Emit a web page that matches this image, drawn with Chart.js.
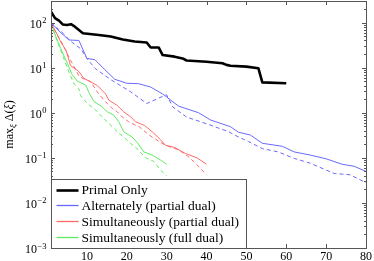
<!DOCTYPE html>
<html>
<head>
<meta charset="utf-8">
<script src="https://cdn.jsdelivr.net/npm/chart.js@4/dist/chart.umd.min.js"></script>
<style>
html,body{margin:0;padding:0;background:#fff;}
#wrap{position:relative;width:374px;height:261px;}
</style>
</head>
<body>
<div id="wrap"><canvas id="c" width="374" height="261"></canvas></div>
<script>
// ---- data ----
const legendLabels = ['Primal Only','Alternately (partial dual)','Simultaneously (partial dual)','Simultaneously (full dual)'];

const primalX = [1,2,3,4,5,6,7,9,13,16,19,22,25,26,28,29,32,34,35,40,44,45,46,50,53,54,60];
const primalY = [175,125,110,90,88,92,81,58,53,49,42,38,36,28,28,19,17.5,16,14.4,13.5,12.5,11.5,11,10.5,9.7,4.7,4.5];

const altX = [1,3,5.5,8,10,12,14.5,17,20,23,26,29,31,33,38,41,46,48,51,54,59,62,66,70,74,77,80];
const altY = [100,65,41,40,16,15,9,5.5,4.5,4.4,3.7,2.6,1.9,1.4,1.0,0.69,0.49,0.37,0.32,0.21,0.18,0.135,0.115,0.095,0.072,0.065,0.05];
const altDX = [1,4,6,8.5,10,12,16,21,25,29,30,31.5,35,40.5,45.5,48,50.5,54,58,62,66,72,76,80];
const altDY = [100,58,38,26,16,9.7,5.4,2.9,1.6,2.3,2.5,1.35,0.8,0.55,0.38,0.29,0.23,0.16,0.135,0.097,0.076,0.045,0.042,0.028];

const simPX = [1,2.5,3.6,4.8,5.9,7,8,9.2,11,12.6,14.7,15.5,17.6,19.2,20.9,22.2,24.5,26.5,28.5,29.7,32,34.7,37.6,40];
const simPY = [100,55,35,24,11,9.5,8.2,5.8,4.8,4.0,2.6,1.9,1.45,1.05,0.82,0.63,0.52,0.37,0.25,0.19,0.17,0.125,0.1,0.072];
const simPDX = [1,2.5,4,5.5,7.2,8,8.9,10.9,12.6,14.3,16.3,17.6,18.8,20.5,22,23.1,25.6,28.1,29.7,33,35.6,37.6,40];
const simPDY = [100,55,32,17,9,6.5,5.8,4.9,2.9,1.9,1.25,1.05,0.81,0.63,0.54,0.49,0.32,0.23,0.19,0.15,0.104,0.07,0.042];

const simFX = [1,2.2,3.4,5.1,6.3,7.6,9.7,10.5,11.7,13.8,15.1,16.7,18,19.2,21.3,22.6,24.3,26.4,28.5,30];
const simFY = [95,49,27,12.5,7,5,4.1,2.8,1.8,1.35,1.05,0.89,0.63,0.38,0.29,0.22,0.135,0.115,0.089,0.072];
const simFDX = [1,2.5,4,5.5,6.8,8,8.4,10.1,12.2,13.8,15.5,17.6,19.2,20.9,22.4,24.7,26.8,28.5,30];
const simFDY = [95,40,18,8,4.3,3.4,2.4,1.6,1.15,0.81,0.58,0.38,0.29,0.21,0.165,0.1,0.083,0.053,0.04];

const xTicks = [10,20,30,40,50,60,70,80];
const yTicks = [1e-3,1e-2,1e-1,1,10,100];
const yTickExps = ['\u22123','\u22122','\u22121','0','1','2'];

// ---- styles ----
const BLACK = '#000000', BLUE = 'rgb(105,105,255)', RED = 'rgb(255,105,105)', GREEN = 'rgb(95,235,95)';
const SERIF = '"Liberation Serif", "Times New Roman", serif';

function pts(xs, ys){ return xs.map((x,i)=>({x:x, y:ys[i]})); }
function ds(label, xs, ys, color, width, dash, inLegend){
  return {label, data: pts(xs,ys), borderColor: color, backgroundColor: color,
    borderWidth: width, borderDash: dash, pointRadius: 0, tension: 0, fill: false,
    inLegend, borderJoinStyle:'round'};
}
const datasets = [
  ds(legendLabels[0], primalX, primalY, BLACK, 2.6, [], true),
  ds(legendLabels[1], altX, altY, BLUE, 1, [], true),
  ds(legendLabels[1]+' dashed', altDX, altDY, BLUE, 1, [4,3], false),
  ds(legendLabels[2], simPX, simPY, RED, 1, [], true),
  ds(legendLabels[2]+' dashed', simPDX, simPDY, RED, 1, [4,3], false),
  ds(legendLabels[3], simFX, simFY, GREEN, 1, [], true),
  ds(legendLabels[3]+' dashed', simFDX, simFDY, GREEN, 1, [4,3], false)
];

const decorPlugin = {
  id: 'decor',
  afterDatasetsDraw(chart){
    const ctx = chart.ctx, ca = chart.chartArea, xs = chart.scales.x, ys = chart.scales.y;
    ctx.save();
    ctx.strokeStyle = '#555';
    ctx.lineWidth = 1;
    xTicks.forEach(v=>{
      const px = Math.round(xs.getPixelForValue(v))+0.5;
      ctx.beginPath();
      ctx.moveTo(px, ca.bottom); ctx.lineTo(px, ca.bottom-4);
      ctx.moveTo(px, ca.top); ctx.lineTo(px, ca.top+4);
      ctx.stroke();
    });
    for(let e=-3;e<=2;e++){
      for(let k=1;k<=9;k++){
        const v = k*Math.pow(10,e);
        if(v<ys.min || v>ys.max) continue;
        const py = Math.round(ys.getPixelForValue(v))+0.5;
        const len = (k===1)?4:2;
        ctx.beginPath();
        ctx.moveTo(ca.left, py); ctx.lineTo(ca.left+len, py);
        ctx.moveTo(ca.right, py); ctx.lineTo(ca.right-len, py);
        ctx.stroke();
      }
    }
    ctx.strokeRect(Math.round(ca.left)+0.5, Math.round(ca.top)+0.5, Math.round(ca.right-ca.left), Math.round(ca.bottom-ca.top));
    ctx.restore();
  },
  afterDraw(chart){
    const ctx = chart.ctx, ca = chart.chartArea, ys = chart.scales.y;
    // y tick labels 10^n with real superscripts
    ctx.save();
    ctx.fillStyle = '#000';
    ctx.textBaseline = 'alphabetic';
    ctx.textAlign = 'left';
    const fBase = '12px ' + SERIF, fExp = '8.5px ' + SERIF;
    yTicks.forEach((v,i)=>{
      const py = ys.getPixelForValue(v);
      ctx.font = fBase; const w1 = ctx.measureText('10').width;
      ctx.font = fExp; const w2 = ctx.measureText(yTickExps[i]).width;
      const x0 = ca.left - 5 - w1 - w2;
      ctx.font = fBase; ctx.fillText('10', x0, py + 5);
      ctx.font = fExp; ctx.fillText(yTickExps[i], x0 + w1 + 0.5, py + 0.5);
    });
    ctx.restore();

    // legend box
    const bx = Math.round(ca.left)+0.5, bh = 69, by = Math.round(ca.bottom)-bh+0.5, bw = 195;
    ctx.save();
    ctx.fillStyle = '#fff';
    ctx.fillRect(bx, by, bw, bh);
    ctx.strokeStyle = '#555';
    ctx.lineWidth = 1;
    ctx.strokeRect(bx, by, bw, bh);
    const items = chart.data.datasets.filter(d=>d.inLegend);
    ctx.font = '13.5px ' + SERIF;
    ctx.textBaseline = 'middle';
    ctx.textAlign = 'left';
    items.forEach((d,i)=>{
      const y = by + 10 + i*15.9;
      ctx.beginPath();
      ctx.strokeStyle = d.borderColor;
      ctx.lineWidth = d.borderWidth === 1 ? 1.3 : d.borderWidth;
      ctx.moveTo(bx+5, Math.round(y)+0.5); ctx.lineTo(bx+27, Math.round(y)+0.5);
      ctx.stroke();
      ctx.fillStyle = '#000';
      ctx.fillText(legendLabels[i], bx+30, y+1);
    });
    ctx.restore();

    // y axis title: max_xi Delta(xi)
    ctx.save();
    const cy = (ca.top+ca.bottom)/2;
    ctx.translate(13, cy);
    ctx.rotate(-Math.PI/2);
    ctx.fillStyle = '#000';
    ctx.textBaseline = 'alphabetic';
    const f1 = '12px ' + SERIF, f2 = 'italic 9px ' + SERIF, f3 = 'italic 12px ' + SERIF;
    const parts = [
      {t:'max', f:f1, dy:0},
      {t:'\u03BE', f:f2, dy:3},
      {t:' \u0394(', f:f1, dy:0},
      {t:'\u03BE', f:f3, dy:0},
      {t:')', f:f1, dy:0}
    ];
    let total = 0;
    parts.forEach(p=>{ ctx.font = p.f; p.w = ctx.measureText(p.t).width; total += p.w; });
    let x = -total/2;
    parts.forEach(p=>{ ctx.font = p.f; ctx.fillText(p.t, x, p.dy); x += p.w; });
    ctx.restore();
  }
};

new Chart(document.getElementById('c'), {
  type: 'line',
  data: { datasets },
  options: {
    responsive: false,
    animation: false,
    devicePixelRatio: 1,
    layout: { padding: { left: 0, right: 6, top: 1, bottom: 0 } },
    plugins: { legend: { display: false }, tooltip: { enabled: false } },
    scales: {
      x: {
        type: 'linear', min: 1, max: 80,
        grid: { display: false, drawTicks: false },
        border: { display: false },
        afterBuildTicks: s => { s.ticks = xTicks.map(v=>({value:v})); },
        afterFit: s => { s.height = 13; },
        ticks: { color: '#000', padding: 2, maxRotation: 0, autoSkip: false,
          font: { family: SERIF, size: 12 }, callback: v => String(v) }
      },
      y: {
        type: 'logarithmic', min: 1e-3, max: 300,
        grid: { display: false, drawTicks: false },
        border: { display: false },
        afterBuildTicks: s => { s.ticks = yTicks.map(v=>({value:v})); },
        afterFit: s => { s.width = 51; },
        ticks: { display: false }
      }
    }
  },
  plugins: [decorPlugin]
});
</script>
</body>
</html>
